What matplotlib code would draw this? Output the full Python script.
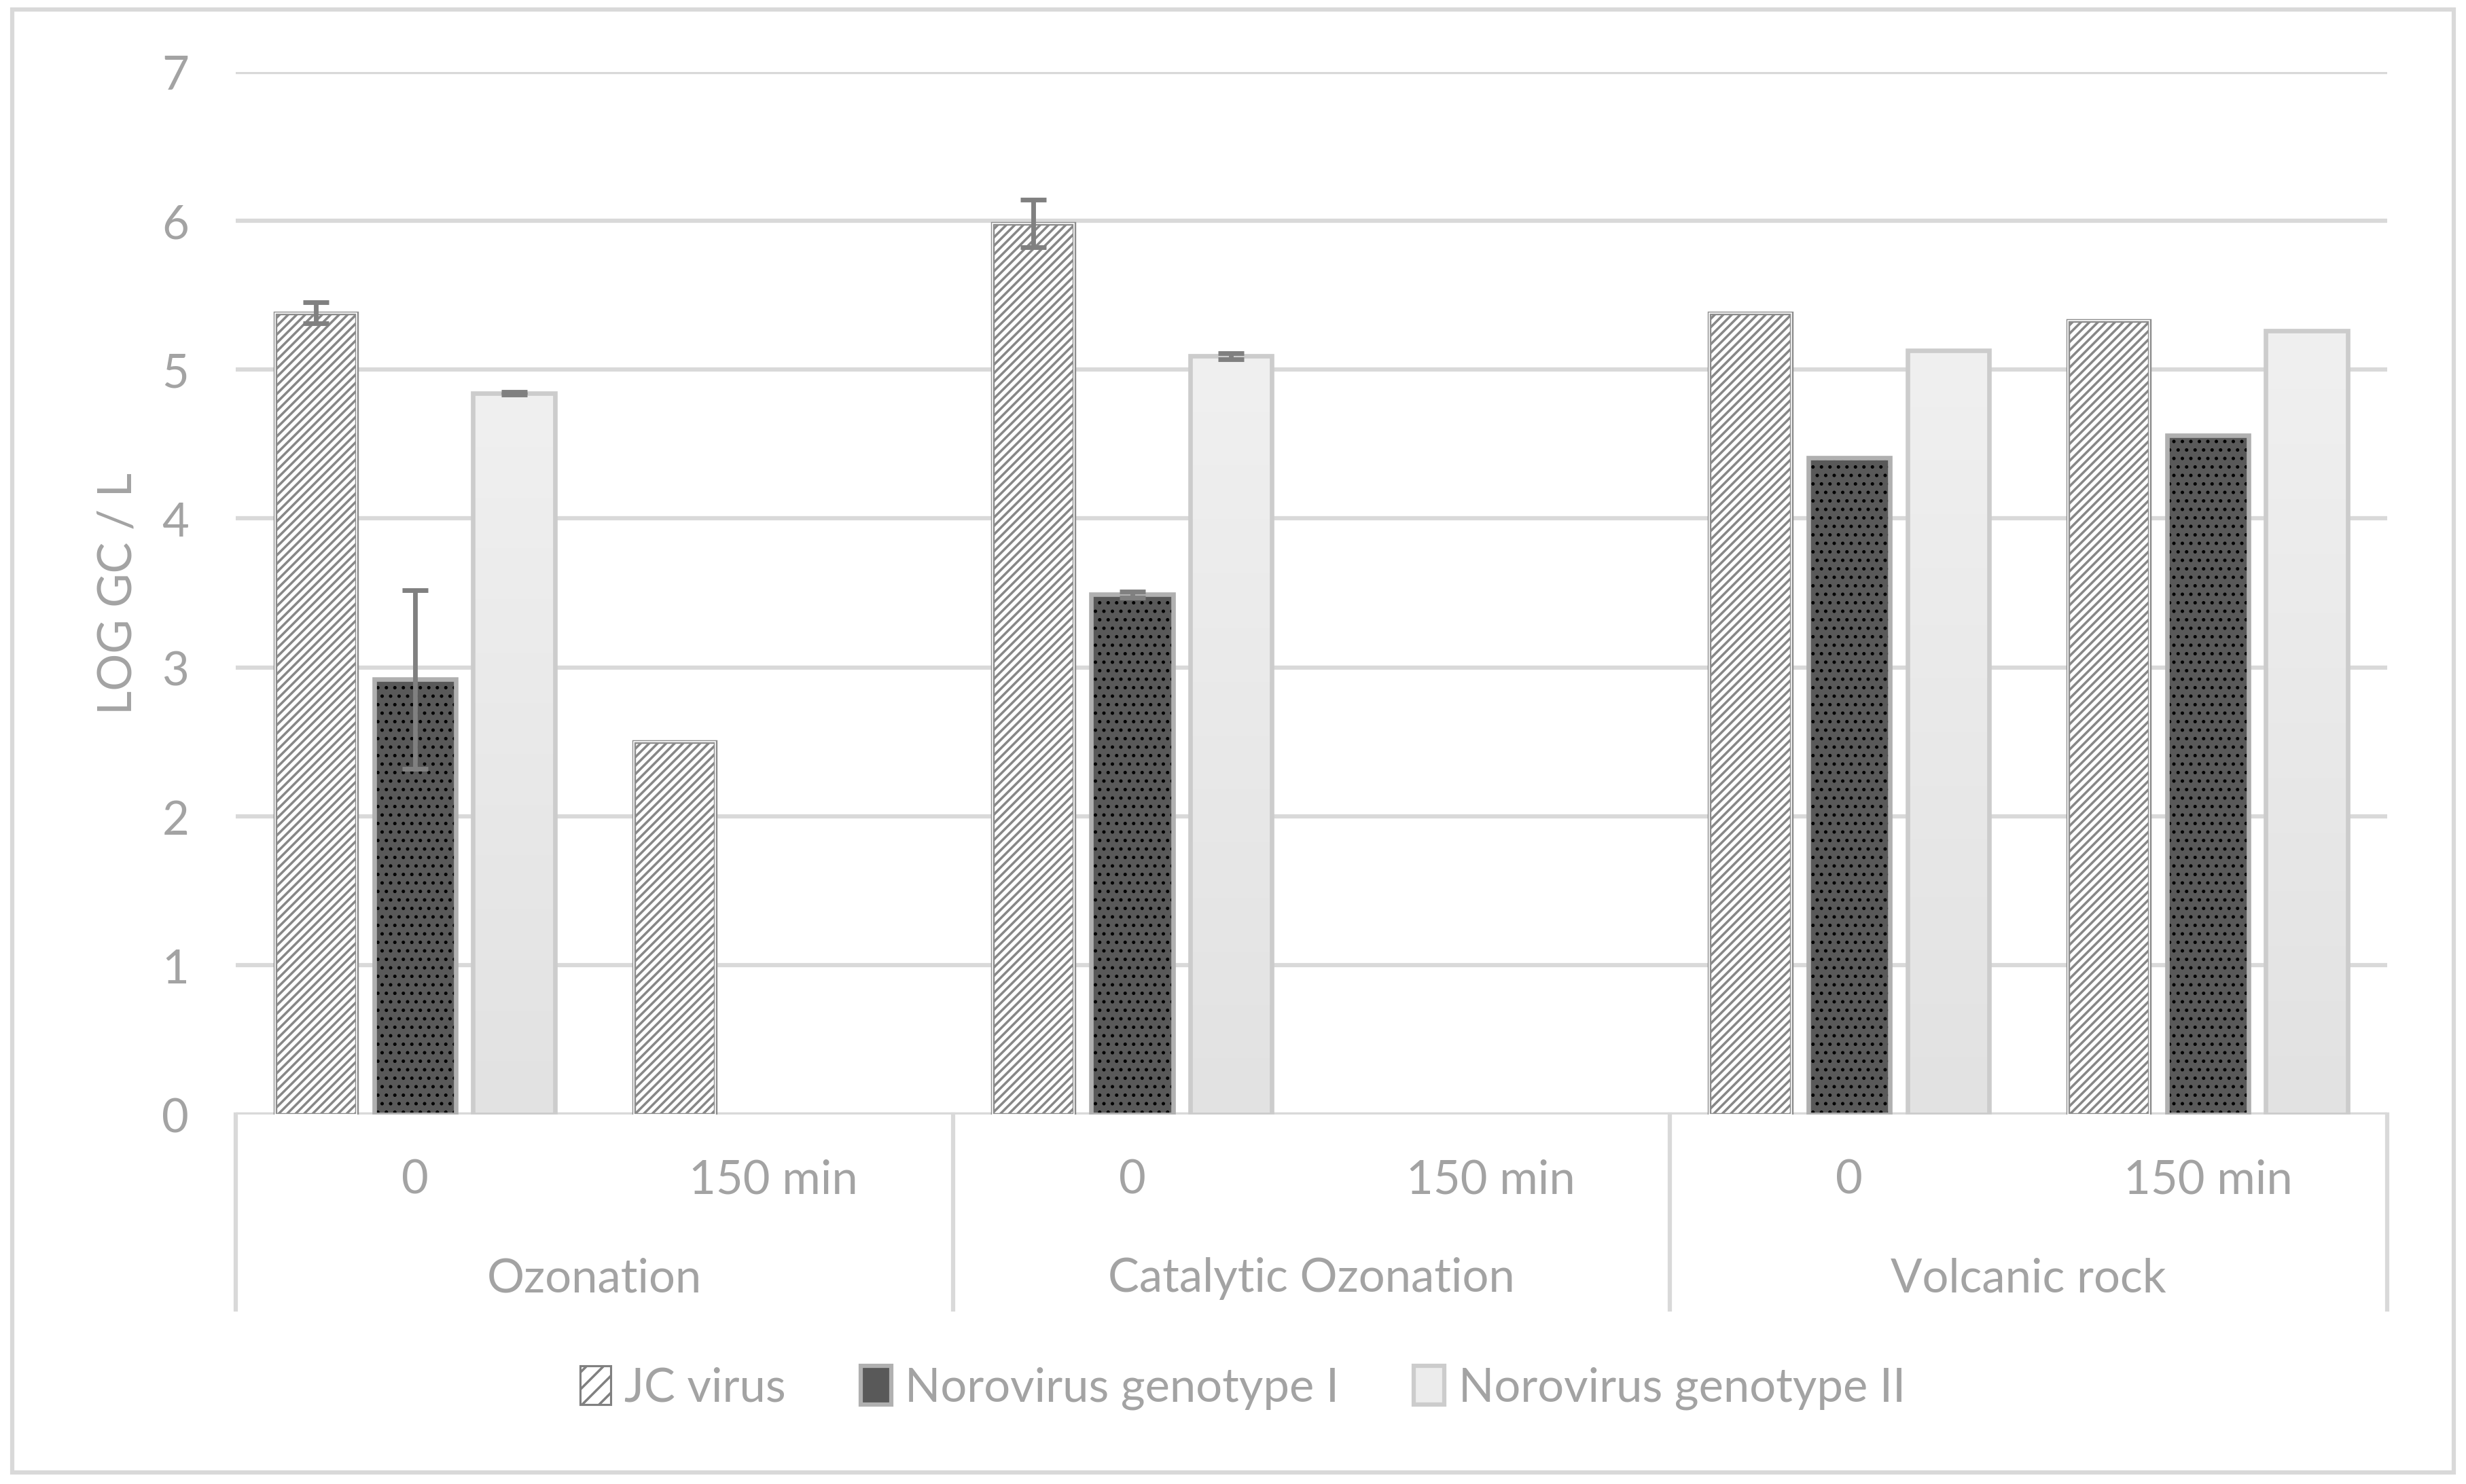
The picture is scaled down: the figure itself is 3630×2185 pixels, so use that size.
import numpy as np
import matplotlib.pyplot as plt
from matplotlib.colors import LinearSegmentedColormap
from matplotlib.patches import Patch, Rectangle

plt.rcParams['font.family'] = ['Lato', 'DejaVu Sans']
plt.rcParams['hatch.linewidth'] = 1.7

# data
treatments = ['Ozonation', 'Catalytic Ozonation', 'Volcanic rock']
times = ['0', '150 min']
series = ['JC virus', 'Norovirus genotype I', 'Norovirus genotype II']

jc = [5.38, 2.50, 5.98, 0, 5.38, 5.33]
jc_err = [0.07, 0, 0.16, 0, 0, 0]
nov1 = [2.92, 0, 3.49, 0, 4.41, 4.56]
nov1_err = [0.60, 0, 0.02, 0, 0, 0]
nov2 = [4.84, 0, 5.09, 0, 5.13, 5.26]
nov2_err = [0.01, 0, 0.02, 0, 0, 0]

txt = '#a3a3a3'
grid = '#d9d9d9'
fs = 33

fig = plt.figure(figsize=(24.2, 14.573), dpi=150)
ax = fig.add_axes([0.0956, 0.249, 0.8724, 0.7023])

x = np.arange(len(jc))
w = 0.228
off = 0.276


def nz(vals):
    v = np.array(vals)
    i = np.where(v > 0)[0]
    return x[i], v[i]


def set_hlw(bars, lw):
    for p in bars:
        if hasattr(p, 'set_hatch_linewidth'):
            p.set_hatch_linewidth(lw)


# JC virus: white with grey diagonal stripes, double outline
xs, ys = nz(jc)
b = ax.bar(xs - off, ys, w, color='white', edgecolor='#878787', hatch='////', linewidth=0, zorder=2)
set_hlw(b, 1.7)
ax.bar(xs - off, ys, w, fill=False, edgecolor='#8c8c8c', linewidth=2.6, zorder=3)
ax.bar(xs - off, ys, w, fill=False, edgecolor='white', linewidth=0.8, zorder=3)

# Norovirus I: dark grey with black dots
xs, ys = nz(nov1)
b = ax.bar(xs, ys, w, color='#595959', edgecolor='black', hatch='..', linewidth=0, zorder=2)
set_hlw(b, 1.2)
ax.bar(xs, ys, w, fill=False, edgecolor='#b0b0b0', linewidth=3.2, zorder=3)

# Norovirus II: light grey gradient
cmap = LinearSegmentedColormap.from_list('g', ['#e2e2e2', '#f0f0f0'])
grad = np.linspace(0, 1, 256).reshape(-1, 1)
xs, ys = nz(nov2)
for xi, v in zip(xs + off, ys):
    ax.imshow(grad, extent=[xi - w / 2, xi + w / 2, 0, v], origin='lower',
              aspect='auto', cmap=cmap, zorder=2)
ax.bar(xs + off, ys, w, fill=False, edgecolor='#cccccc', linewidth=3.2, zorder=3)

# error bars
for xp, yv, ev in [(x - off, jc, jc_err), (x, nov1, nov1_err), (x + off, nov2, nov2_err)]:
    idx = [i for i in range(len(ev)) if ev[i] > 0]
    ax.errorbar(xp[idx], np.array(yv)[idx], yerr=np.array(ev)[idx], fmt='none',
                ecolor='#808080', elinewidth=3.3, capsize=9, capthick=3.3, zorder=4)

ax.set_xlim(-0.5, 5.5)
ax.set_ylim(0, 7)
ax.set_yticks(range(8))
ax.yaxis.grid(True, color=grid, linewidth=3.0, zorder=0)
ax.set_axisbelow(True)
ax.tick_params(axis='y', length=0, pad=33, labelsize=fs, labelcolor=txt)
ax.set_xticks([])
for s in ax.spines.values():
    s.set_visible(False)
ax.axhline(0, color=grid, linewidth=3.0, zorder=1)

# multi-level category axis
trans = ax.get_xaxis_transform()
for xv in [-0.5, 1.5, 3.5, 5.5]:
    ax.plot([xv, xv], [0, -0.187], transform=trans, color=grid, linewidth=3.0, clip_on=False)
for i in range(len(jc)):
    ax.text(i, -0.063, times[i % 2], transform=trans, ha='center', va='center',
            fontsize=fs, color=txt)
for j, t in enumerate(treatments):
    ax.text(2 * j + 0.5, -0.157, t, transform=trans, ha='center', va='center',
            fontsize=fs, color=txt)

fig.text(0.048, 0.60, 'LOG GC / L', rotation=90, ha='center', va='center',
         fontsize=fs, color=txt)

handles = [
    Patch(facecolor='white', edgecolor='#808080', hatch='//', linewidth=1.5),
    Patch(facecolor='#595959', edgecolor='#b0b0b0', linewidth=3),
    Patch(facecolor='#ececec', edgecolor='#cccccc', linewidth=3),
]
leg = fig.legend(handles, series, loc='center', bbox_to_anchor=(0.504, 0.065),
                 ncol=3, frameon=False, fontsize=fs, labelcolor=txt,
                 handlelength=0.65, handleheight=0.9, handletextpad=0.3, columnspacing=1.6)

# chart border
fig.patches.append(Rectangle((0.005, 0.008), 0.99, 0.985, transform=fig.transFigure,
                             fill=False, edgecolor=grid, linewidth=3.0))

fig.savefig('out.png', dpi=150)
